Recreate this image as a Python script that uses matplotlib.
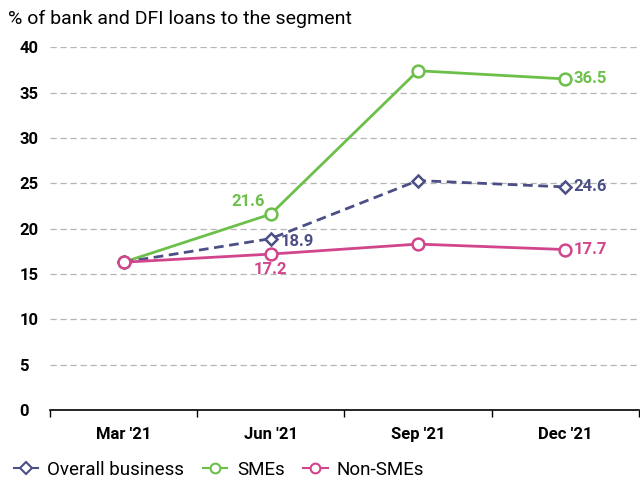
import numpy as np
import matplotlib
matplotlib.use("Agg")
import matplotlib.pyplot as plt
from matplotlib.lines import Line2D

plt.rcParams["font.family"] = ["Roboto", "DejaVu Sans"]

quarters = ["Mar '21", "Jun '21", "Sep '21", "Dec '21"]
overall = [16.3, 18.9, 25.3, 24.6]
smes = [16.3, 21.6, 37.4, 36.5]
non_smes = [16.3, 17.2, 18.3, 17.7]

c_overall = "#4b4f86"
c_smes = "#6cc04a"
c_non = "#d1458c"

fig = plt.figure(figsize=(6.4, 4.86), dpi=100)
ax = fig.add_axes([0.078, 0.156, 0.92, 0.747])

x = np.arange(len(quarters))
ax.plot(x, overall, color=c_overall, lw=2, ls=(0, (3.5, 2)), marker="D", ms=6.5,
        mfc="white", mec=c_overall, mew=1.8, zorder=4)
ax.plot(x, smes, color=c_smes, lw=2, marker="o", ms=8.5,
        mfc="white", mec=c_smes, mew=1.8, zorder=3)
ax.plot(x, non_smes, color=c_non, lw=2, marker="o", ms=8.5,
        mfc="white", mec=c_non, mew=1.8, zorder=5)

lab_kw = dict(fontsize=12, fontweight="bold")
ax.annotate(f"{smes[1]}", (x[1], smes[1]), xytext=(-4, 4), textcoords="offset points",
            ha="right", va="bottom", color=c_smes, **lab_kw)
ax.annotate(f"{overall[1]}", (x[1], overall[1]), xytext=(7, -2), textcoords="offset points",
            ha="left", va="center", color=c_overall, **lab_kw)
ax.annotate(f"{non_smes[1]}", (x[1], non_smes[1]), xytext=(0, -6), textcoords="offset points",
            ha="center", va="top", color=c_non, **lab_kw)
for vals, c in [(smes, c_smes), (overall, c_overall), (non_smes, c_non)]:
    ax.annotate(f"{vals[-1]}", (x[-1], vals[-1]), xytext=(6, 0), textcoords="offset points",
                ha="left", va="center", color=c, **lab_kw)

ax.set_xlim(-0.5, 3.5)
ax.set_ylim(0, 40)
ax.set_yticks(np.arange(0, 41, 5))
ax.set_xticks(x)
ax.set_xticklabels(quarters, fontsize=12, fontweight="bold")
ax.set_xticks(np.arange(-0.5, 3.6, 1), minor=True)
ax.tick_params(axis="x", which="major", length=0, pad=12)
ax.tick_params(axis="x", which="minor", length=5, width=1, color="black")
ax.tick_params(axis="y", length=0, pad=22, labelsize=12)
for lab in ax.get_yticklabels():
    lab.set_fontweight("bold")
    lab.set_horizontalalignment("left")

for v in np.arange(5, 41, 5):
    ax.axhline(v, color="#b5b5b5", lw=0.9, ls=(0, (5, 3)), zorder=1)

for s in ["top", "right", "left"]:
    ax.spines[s].set_visible(False)
ax.spines["bottom"].set_linewidth(1.2)

fig.text(0.012, 0.962, "% of bank and DFI loans to the segment", fontsize=14,
         ha="left", va="center")

handles = [
    Line2D([], [], color=c_overall, lw=1.5, marker="D", ms=6, mfc="white", mew=1.5),
    Line2D([], [], color=c_smes, lw=1.5, marker="o", ms=7, mfc="white", mew=1.5),
    Line2D([], [], color=c_non, lw=1.5, marker="o", ms=7, mfc="white", mew=1.5),
]
fig.legend(handles, ["Overall business", "SMEs", "Non-SMEs"], loc="lower left",
           bbox_to_anchor=(-0.005, -0.02), ncol=3, frameon=False, fontsize=13.5,
           handlelength=1.3, handletextpad=0.5, columnspacing=1.0)

fig.savefig("out.png", dpi=100)
